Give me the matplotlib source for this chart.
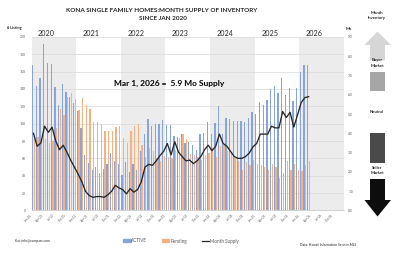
import matplotlib
matplotlib.use("Agg")
import matplotlib.pyplot as plt
import numpy as np
import pandas as pd
from matplotlib.patches import Polygon, Rectangle
from matplotlib.lines import Line2D

plt.rcParams["font.family"] = ["Lato", "DejaVu Sans"]

years = ["2020", "2021", "2022", "2023", "2024", "2025", "2026"]

# monthly values, Jan 2020 .. Mar 2026
active = [168, 143, 153, 192, 170, 169, 142, 122, 146, 137, 131, 124,
          114, 95, 64, 55, 47, 50, 43, 48, 54, 66, 57, 54,
          41, 56, 44, 54, 47, 69, 88, 105, 97, 100, 100, 104,
          99, 98, 86, 85, 88, 78, 79, 75, 70, 88, 89, 102,
          88, 101, 120, 88, 106, 105, 103, 103, 103, 102, 107, 113,
          111, 125, 121, 127, 140, 143, 135, 153, 133, 141, 126, 141,
          159, 168, 168]
pending = [84, 85, 81, 82, 78, 80, 95, 117, 110, 131, 135, 128,
           116, 129, 121, 117, 102, 102, 100, 92, 91, 91, 96, 97,
           84, 78, 91, 97, 100, 75, 62, 72, 68, 60, 57, 63,
           62, 60, 70, 84, 88, 82, 65, 64, 62, 58, 64, 66,
           72, 62, 74, 75, 68, 66, 60, 57, 47, 56, 52, 58,
           54, 52, 50, 47, 54, 50, 37, 43, 57, 47, 54, 47,
           46, 52, 57]
supply = [4.0, 3.33, 3.5, 4.37, 4.05, 4.32, 3.6, 3.15, 3.38, 3.02, 2.61, 2.25,
          1.89, 1.49, 0.99, 0.77, 0.68, 0.72, 0.72, 0.68, 0.81, 0.99, 1.3, 1.17,
          1.08, 0.86, 1.13, 0.95, 1.08, 1.49, 2.25, 2.39, 2.34, 2.57, 2.84, 3.06,
          3.47, 2.88, 3.56, 3.02, 2.79, 2.57, 2.61, 2.43, 2.57, 2.79, 3.15, 3.38,
          3.1, 3.33, 3.96, 3.47, 3.33, 3.06, 2.79, 2.7, 2.7, 2.79, 2.97, 3.29,
          3.47, 3.96, 3.96, 3.96, 4.37, 4.28, 4.28, 5.13, 4.82, 5.09, 4.32, 4.95,
          5.6, 5.85, 5.9]

n_slots = 84
month_labels = pd.date_range("2020-01-01", periods=n_slots, freq="MS").strftime("%b-%y")

BLUE = "#87a5db"
ORANGE = "#f4b183"
BAND = "#ececec"
TXT = "#262626"

fig = plt.figure(figsize=(4, 2.56), dpi=100)
ax = fig.add_axes([0.079, 0.178, 0.781, 0.678])
x = np.arange(len(active))

for k, yr in enumerate(years):
    if k % 2 == 0:
        ax.axvspan(12 * k - 0.5, 12 * k + 11.5, color=BAND, lw=0, zorder=0)
    ax.text(12 * k + 3.5, 204, yr, ha="center", va="center", fontsize=5.2,
            color=TXT, clip_on=False)

ax.bar(x - 0.22, active, width=0.34, color=BLUE, label="ACTIVE", zorder=2)
ax.bar(x + 0.22, pending, width=0.34, color=ORANGE, label="Pending", zorder=2)
ax.set_xlim(-0.5, n_slots - 0.5)
ax.set_ylim(0, 200)
ax.set_yticks(range(0, 201, 20))
ax.yaxis.grid(True, color="#d9d9d9", lw=0.5, zorder=1)
ax.set_axisbelow(True)
ax.set_xticks(range(0, n_slots, 3))
ax.set_xticklabels(month_labels[::3], rotation=45, ha="right", fontsize=2.2,
                   color="#595959")
ax.tick_params(axis="both", length=0, pad=2)
ax.tick_params(axis="y", labelsize=2.4, labelcolor="#595959", pad=4)
for s in ["top", "left", "right"]:
    ax.spines[s].set_visible(False)
ax.spines["bottom"].set_color("#bfbfbf")
ax.spines["bottom"].set_linewidth(0.5)

ax2 = ax.twinx()
ax2.plot(x, supply, color=TXT, lw=0.95, label="Month Supply", zorder=3)
ax2.set_ylim(0, 9)
ax2.set_yticks(np.arange(0, 9.1, 1.0))
ax2.set_yticklabels([f"{v:.1f}" for v in np.arange(0, 9.1, 1.0)])
ax2.tick_params(axis="y", length=0, labelsize=2.4, labelcolor="#595959", pad=3)
for s in ax2.spines.values():
    s.set_visible(False)

# overlay in pixel coordinates for titles, notes and the market scale
ov = fig.add_axes([0, 0, 1, 1])
ov.set_xlim(0, 400)
ov.set_ylim(256, 0)
ov.axis("off")

ov.text(162, 10, "KONA SINGLE FAMILY HOMES:MONTH SUPPLY OF INVENTORY",
        ha="center", va="center", fontsize=4.6, fontweight="bold", color=TXT)
ov.text(163, 19, "SINCE JAN 2020", ha="center", va="center", fontsize=4.6,
        fontweight="bold", color=TXT)
ov.text(14, 28, "# Listing", ha="center", va="center", fontsize=2.8,
        fontweight="bold", color=TXT)
ov.text(349, 29, "Mo", ha="center", va="center", fontsize=3,
        fontweight="bold", color=TXT)
ov.text(169, 83, "Mar 1, 2026 =  5.9 Mo Supply", ha="center", va="center",
        fontsize=6.0, fontweight="bold", color="black")

ov.text(377, 15.5, "Month\nInventory", ha="center", va="center", fontsize=3,
        fontweight="bold", color=TXT, linespacing=1.6)
ov.text(377, 63, "Buyer\nMarket", ha="center", va="center", fontsize=3,
        fontweight="bold", color=TXT, linespacing=1.6)
ov.text(377, 112, "Neutral", ha="center", va="center", fontsize=3,
        fontweight="bold", color=TXT)
ov.text(377, 170.5, "Seller\nMarket", ha="center", va="center", fontsize=3,
        fontweight="bold", color=TXT, linespacing=1.6)

ov.add_patch(Polygon([(377.5, 31.5), (364.5, 45), (370, 45), (370, 60.5),
                      (385, 60.5), (385, 45), (391, 45)],
                     closed=True, color="#d6d6d6", lw=0))
ov.add_patch(Rectangle((370, 72), 14.5, 19, color="#a6a6a6", lw=0))
ov.add_patch(Rectangle((370, 133), 14.5, 30, color="#4a4a4a", lw=0))
ov.add_patch(Polygon([(370, 179), (385, 179), (385, 200), (391, 200),
                      (377.5, 216.5), (364.5, 200), (370, 200)],
                     closed=True, color="#0d0d0d", lw=0))

ov.text(15, 241, "Kai: info@compass.com", ha="left", va="center",
        fontsize=2.4, color=TXT)
ov.text(300, 245, "Data: Hawaii Information Service MLS", ha="left",
        va="center", fontsize=2.4, color=TXT)

handles = [Rectangle((0, 0), 1, 1, color=BLUE), Rectangle((0, 0), 1, 1, color=ORANGE),
           Line2D([0], [0], color=TXT, lw=0.9)]
fig.legend(handles, ["ACTIVE", "Pending", "Month Supply"], loc="center",
           bbox_to_anchor=(181 / 400, 1 - 241 / 256), ncol=3, fontsize=3.3,
           frameon=False, labelcolor="#595959", handlelength=1.6,
           handleheight=0.6, handletextpad=0.2, columnspacing=3.2)

fig.savefig("out.png", dpi=100)
